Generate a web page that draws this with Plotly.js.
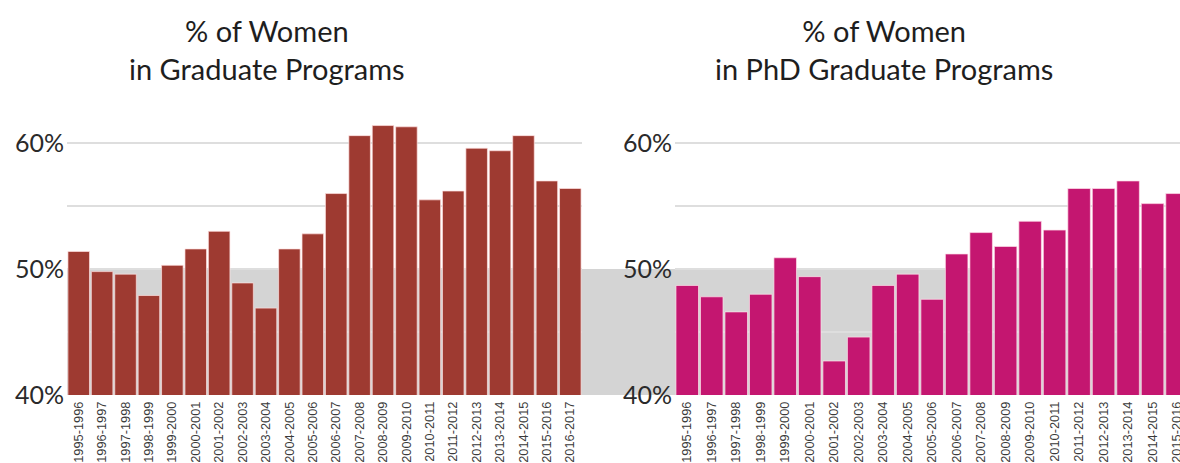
<!DOCTYPE html>
<html>
<head>
<meta charset="utf-8">
<script src="https://cdn.plot.ly/plotly-3.0.1.min.js"></script>
<style>
  html, body { margin: 0; padding: 0; background: #fff; }
  #chart { width: 1180px; height: 463px; }
</style>
</head>
<body>
<div id="chart"></div>
<script>
// ---- data ----
const years = ["1995-1996","1996-1997","1997-1998","1998-1999","1999-2000","2000-2001",
  "2001-2002","2002-2003","2003-2004","2004-2005","2005-2006","2006-2007","2007-2008",
  "2008-2009","2009-2010","2010-2011","2011-2012","2012-2013","2013-2014","2014-2015",
  "2015-2016","2016-2017"];
const gradWomen = [51.4, 49.8, 49.6, 47.9, 50.3, 51.6, 53.0, 48.9, 46.9, 51.6, 52.8,
  56.0, 60.6, 61.4, 61.3, 55.5, 56.2, 59.6, 59.4, 60.6, 57.0, 56.4];
// PhD values visible in the picture (the last year is cut off at the edge)
const phdWomen = [48.7, 47.8, 46.6, 48.0, 50.9, 49.4, 42.7, 44.6, 48.7, 49.6, 47.6,
  51.2, 52.9, 51.8, 53.8, 53.1, 56.4, 56.4, 57.0, 55.2, 56.0];
const yTicks = [40, 50, 60];
const yTickText = ["40%", "50%", "60%"];
const titles = ["% of Women<br>in Graduate Programs", "% of Women<br>in PhD Graduate Programs"];

const W = 1180;
const tickFont = {family: "Lato, 'Open Sans', sans-serif", size: 25, color: "#2a2a2a"};
const xFont = {family: "'Liberation Sans', Arial, sans-serif", size: 12.8, color: "#3a3a3a"};

const traces = [
  {type: "bar", x: years, y: gradWomen, xaxis: "x", yaxis: "y",
   marker: {color: "#9e3a31", line: {color: "rgba(255,225,225,0.7)", width: 1}},
   hoverinfo: "x+y"},
  {type: "bar", x: years.slice(0, phdWomen.length), y: phdWomen, xaxis: "x2", yaxis: "y2",
   marker: {color: "#c41670", line: {color: "rgba(255,225,235,0.7)", width: 1}},
   hoverinfo: "x+y"}
];

function yAxis(anchor) {
  return {
    anchor: anchor, range: [40, 62], tickvals: yTicks, ticktext: yTickText,
    tickfont: tickFont, showgrid: true, gridcolor: "#dedede", gridwidth: 2,
    minor: {tick0: 40, dtick: 5, showgrid: true, gridcolor: "#dedede", gridwidth: 2},
    zeroline: false, showline: false, ticks: "", ticklabelstandoff: 2, fixedrange: true
  };
}
function xAxis(anchor, domain, range) {
  return {
    anchor: anchor, domain: domain, range: range, type: "category",
    tickangle: -90, tickfont: xFont, showgrid: false, zeroline: false,
    showline: false, ticks: "", ticklabelstandoff: 3, fixedrange: true
  };
}

const layout = {
  width: 1180, height: 463,
  margin: {l: 0, r: 0, t: 118, b: 68},
  paper_bgcolor: "#fff", plot_bgcolor: "rgba(0,0,0,0)",
  showlegend: false, bargap: 0.08,
  xaxis: xAxis("y", [67 / W, 582 / W], [-0.5, 21.5]),
  yaxis: yAxis("x"),
  xaxis2: xAxis("y2", [675 / W, 1], [-0.5, 20.12]),
  yaxis2: yAxis("x2"),
  shapes: [
    {type: "rect", xref: "paper", yref: "y", x0: 67 / W, x1: 1, y0: 40, y1: 50,
     fillcolor: "#d4d4d4", line: {width: 0}, layer: "below"}
  ],
  annotations: [
    {text: titles[0], xref: "paper", yref: "paper", x: 267 / W, y: 1.385,
     xanchor: "center", yanchor: "top", showarrow: false, align: "center",
     font: {family: "Lato, 'Open Sans', sans-serif", size: 29, color: "#1e1e1e"}},
    {text: titles[1], xref: "paper", yref: "paper", x: 884 / W, y: 1.385,
     xanchor: "center", yanchor: "top", showarrow: false, align: "center",
     font: {family: "Lato, 'Open Sans', sans-serif", size: 29, color: "#1e1e1e"}}
  ]
};

Plotly.newPlot("chart", traces, layout, {displayModeBar: false, staticPlot: true});
</script>
</body>
</html>
